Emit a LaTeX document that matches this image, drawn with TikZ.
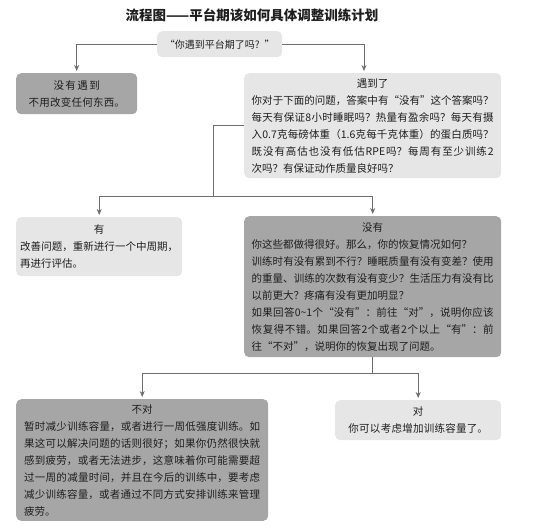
\documentclass[tikz,border=0pt]{standalone}
\usepackage{fontspec}
\setmainfont{Noto Sans CJK SC}
\usetikzlibrary{arrows.meta}
\XeTeXlinebreaklocale "zh"
\XeTeXlinebreakskip=0pt plus 1pt
\setlength{\parindent}{0pt}
\definecolor{boxlight}{HTML}{E6E6E6}
\definecolor{boxdark}{HTML}{A6A6A6}
\definecolor{linegray}{HTML}{6E6E6E}
\definecolor{txt}{HTML}{1E1E1E}
\tikzset{
  box/.style={anchor=north west, rounded corners=5pt, inner xsep=7.5pt,
    inner ysep=5pt, text=txt, font=\fontsize{10.5}{17}\selectfont, align=justify},
  lbox/.style={box, fill=boxlight},
  dbox/.style={box, fill=boxdark},
  conn/.style={draw=linegray, line width=0.8pt},
  arr/.style={conn, -{Stealth[length=6pt,width=5pt]}, shorten >=2pt}
}

\begin{document}
\begin{tikzpicture}[x=1pt,y=-1pt]
    \useasboundingbox (0,0) rectangle (535,531);
    \node[text=txt] (title) at (252,15)
        {\fontsize{13.5}{16}\selectfont\bfseries 流程图——平台期该如何具体调整训练计划};

    % first question
    \node[lbox, align=center, text width=110pt, minimum height=26pt,
        font=\fontsize{10}{12}\selectfont] (ask) at (157,31) {“你遇到平台期了吗? ”};
    \node[dbox, align=center, text width=106pt, minimum height=41pt] (nomeet) at (16,73)
        {没有遇到\\不用改变任何东西。};
    \node[lbox, text width=242pt, minimum height=105pt] (meet) at (244,73)
        {{\centering 遇到了\par}你对于下面的问题，答案中有“没有”这个答案吗？\linebreak
        每天有保证8小时睡眠吗？热量有盈余吗？每天有摄\linebreak
        入0.7克每磅体重（1.6克每千克体重）的蛋白质吗？\linebreak
        既没有高估也没有低估RPE吗？每周有至少训练2\linebreak
        次吗？有保证动作质量良好吗？};

    % second level
    \node[lbox, text width=158pt, inner xsep=4pt, minimum height=59pt] (have) at (16,217)
        {{\centering 有\par}改善问题，重新进行一个中周期，\linebreak
        再进行评估。};
    \node[dbox, text width=242pt, minimum height=141pt] (no) at (244,216)
        {{\centering 没有\par}你这些都做得很好。那么，你的恢复情况如何？\par
        训练时有没有累到不行？睡眠质量有没有变差？使用\linebreak
        的重量、训练的次数有没有变少？生活压力有没有比\linebreak
        以前更大？疼痛有没有更加明显？\par
        如果回答0\string~1个“没有”：前往“对”，说明你应该\linebreak
        恢复得不错。如果回答2个或者2个以上“有”：前\linebreak
        往“不对”，说明你的恢复出现了问题。};

    % third level
    \node[dbox, text width=236pt, inner xsep=8pt, minimum height=121pt] (bad) at (16,399)
        {{\centering 不对\par}暂时减少训练容量，或者进行一周低强度训练。如\linebreak
        果这可以解决问题的话则很好；如果你仍然很快就\linebreak
        感到疲劳，或者无法进步，这意味着你可能需要超\linebreak
        过一周的减量时间，并且在今后的训练中，要考虑\linebreak
        减少训练容量，或者通过不同方式安排训练来管理\linebreak
        疲劳。};
    \node[lbox, align=center, text width=151pt, minimum height=40pt] (good) at (335,400)
        {对\\你可以考虑增加训练容量了。};

    \coordinate (meetin) at (364,73);
    \coordinate (j1) at (213,196);
    \coordinate (j2) at ([yshift=-16pt]no.south);

    \draw[arr] (ask.west) -| (nomeet.north);
    \draw[arr] (ask.east) -| (meetin);
    \draw[conn] (meet.west) -| (j1);
    \draw[arr] (j1) -| (have.north);
    \draw[arr] (j1) -| (no.north);
    \draw[conn] (no.south) -- (j2);
    \draw[arr] (j2) -| (bad.north);
    \draw[arr] (j2) -| (good.north);
\end{tikzpicture}
\end{document}
